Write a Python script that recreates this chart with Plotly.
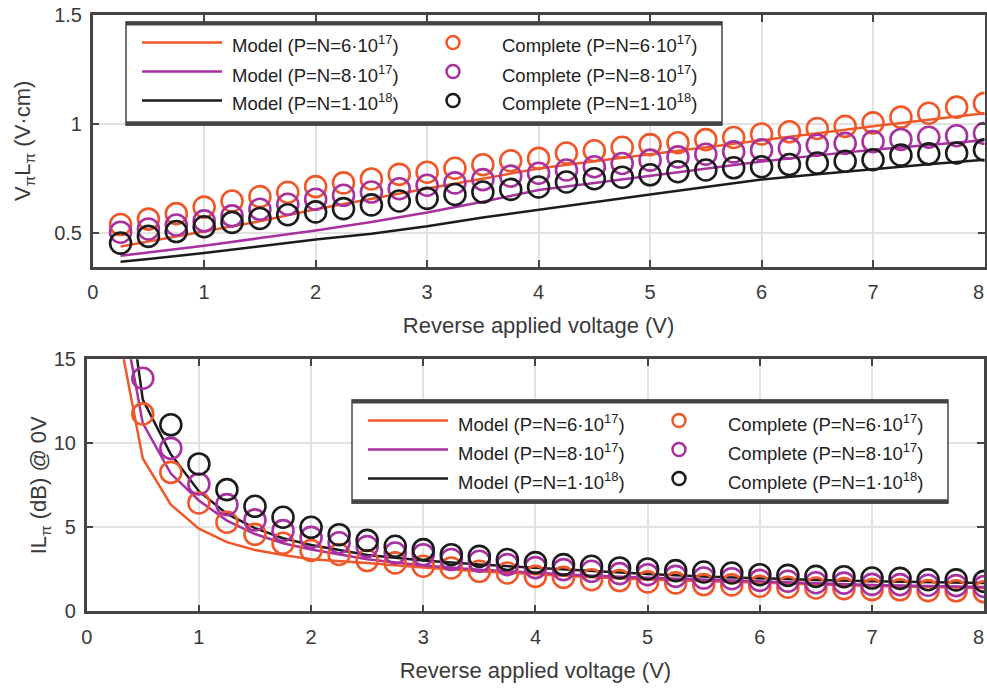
import plotly.graph_objects as go

# ---------------- data ----------------
volt_pts = [0.25, 0.5, 0.75, 1.0, 1.25, 1.5, 1.75, 2.0, 2.25, 2.5, 2.75, 3.0, 3.25, 3.5, 3.75, 4.0,
            4.25, 4.5, 4.75, 5.0, 5.25, 5.5, 5.75, 6.0, 6.25, 6.5, 6.75, 7.0, 7.25, 7.5, 7.75, 8.0]

# V_pi L_pi (V.cm) - "Complete" simulations
vpl_complete_6e17 = [0.54, 0.565, 0.59, 0.62, 0.648, 0.668, 0.688, 0.714, 0.731, 0.749, 0.77, 0.78,
                     0.798, 0.814, 0.832, 0.843, 0.868, 0.878, 0.894, 0.906, 0.915, 0.929, 0.939, 0.955,
                     0.965, 0.98, 0.99, 1.006, 1.032, 1.05, 1.078, 1.095]
vpl_complete_8e17 = [0.505, 0.52, 0.538, 0.557, 0.58, 0.61, 0.633, 0.656, 0.674, 0.689, 0.704, 0.72,
                     0.731, 0.746, 0.762, 0.775, 0.79, 0.805, 0.82, 0.835, 0.85, 0.862, 0.873, 0.882,
                     0.89, 0.904, 0.912, 0.92, 0.93, 0.94, 0.947, 0.958]
vpl_complete_1e18 = [0.455, 0.486, 0.508, 0.53, 0.55, 0.568, 0.585, 0.598, 0.613, 0.63, 0.648, 0.66,
                     0.678, 0.689, 0.701, 0.712, 0.735, 0.75, 0.757, 0.768, 0.782, 0.79, 0.8, 0.805,
                     0.815, 0.822, 0.83, 0.837, 0.858, 0.864, 0.868, 0.882]

# V_pi L_pi model curves
volt_model_top = [0.25, 0.5, 1, 1.5, 2, 2.5, 3, 3.5, 4, 4.5, 5, 5.5, 6, 6.5, 7, 7.5, 8]
vpl_model_6e17 = [0.44, 0.463, 0.508, 0.555, 0.61, 0.658, 0.705, 0.75, 0.797, 0.83, 0.862, 0.895,
                  0.928, 0.96, 0.99, 1.02, 1.05]
vpl_model_8e17 = [0.397, 0.412, 0.443, 0.478, 0.513, 0.552, 0.595, 0.645, 0.698, 0.73, 0.762, 0.796,
                  0.829, 0.857, 0.883, 0.905, 0.926]
vpl_model_1e18 = [0.37, 0.382, 0.41, 0.44, 0.472, 0.498, 0.532, 0.572, 0.608, 0.645, 0.678, 0.712,
                  0.746, 0.771, 0.795, 0.816, 0.837]

# IL_pi (dB) @ 0V - "Complete" simulations (None = off the chart)
il_complete_6e17 = [None, 11.75, 8.27, 6.45, 5.3, 4.58, 4.05, 3.62, 3.38, 3.02, 2.88, 2.68, 2.58, 2.38,
                    2.28, 2.08, 2.02, 1.88, 1.83, 1.75, 1.69, 1.59, 1.57, 1.49, 1.43, 1.39, 1.35, 1.29,
                    1.28, 1.23, 1.22, 1.16]
il_complete_8e17 = [None, 13.87, 9.7, 7.58, 6.35, 5.44, 4.8, 4.4, 4.08, 3.85, 3.47, 3.37, 3.08, 2.98,
                    2.78, 2.6, 2.48, 2.38, 2.24, 2.18, 2.08, 1.98, 1.94, 1.84, 1.79, 1.7, 1.68, 1.6,
                    1.59, 1.55, 1.53, 1.48]
il_complete_1e18 = [None, None, 11.1, 8.77, 7.24, 6.25, 5.6, 5.0, 4.56, 4.22, 3.87, 3.67, 3.37, 3.27,
                    3.08, 2.9, 2.78, 2.68, 2.58, 2.52, 2.42, 2.34, 2.28, 2.18, 2.14, 2.08, 2.06, 1.98,
                    1.96, 1.88, 1.87, 1.78]

# IL_pi model curves
volt_model_bot = [0.25, 0.5, 0.75, 1, 1.25, 1.5, 1.75, 2, 2.5, 3, 3.5, 4, 4.5, 5, 5.5, 6, 6.5, 7, 7.5, 8]
il_model_6e17 = [17.8, 9.1, 6.35, 4.92, 4.12, 3.65, 3.35, 3.1, 2.88, 2.6, 2.38, 2.2, 2.03, 1.9, 1.8,
                 1.7, 1.6, 1.5, 1.45, 1.39]
il_model_8e17 = [20.2, 11.2, 8.2, 6.6, 5.4, 4.6, 4.05, 3.68, 3.1, 2.72, 2.48, 2.3, 2.12, 1.99, 1.88,
                 1.79, 1.68, 1.57, 1.5, 1.44]
il_model_1e18 = [24.6, 12.6, 9.35, 7.15, 5.8, 4.95, 4.35, 3.95, 3.35, 3.02, 2.78, 2.58, 2.38, 2.22,
                 2.07, 1.95, 1.86, 1.79, 1.73, 1.69]

model_labels = ["Model (P=N=6·10<sup>17</sup>)", "Model (P=N=8·10<sup>17</sup>)",
                "Model (P=N=1·10<sup>18</sup>)"]
complete_labels = ["Complete (P=N=6·10<sup>17</sup>)", "Complete (P=N=8·10<sup>17</sup>)",
                   "Complete (P=N=1·10<sup>18</sup>)"]
x_ticks = [0, 1, 2, 3, 4, 5, 6, 7, 8]
# the last label ("8") is drawn as an annotation hugging the right edge, like the reference
x_ticktext = ["0", "1", "2", "3", "4", "5", "6", "7", ""]
last_x_label = "8"
y_ticks_top = [0.5, 1, 1.5]
y_ticktext_top = ["0.5", "1", "1.5"]
y_ticks_bot = [0, 5, 10, 15]

# ---------------- styling ----------------
W, H = 987, 688
FONT = "Liberation Sans, Arial, Helvetica, sans-serif"
COLORS = ["#F0582A", "#A8309F", "#1C1C1C"]
AXC = "#444444"
TXT = "#3a3a3a"


def px(x):
    return x / W


def py(y):
    return 1 - y / H


fig = go.Figure()

top_models = [vpl_model_6e17, vpl_model_8e17, vpl_model_1e18]
top_complete = [vpl_complete_6e17, vpl_complete_8e17, vpl_complete_1e18]
bot_models = [il_model_6e17, il_model_8e17, il_model_1e18]
bot_complete = [il_complete_6e17, il_complete_8e17, il_complete_1e18]

for i in range(3):
    fig.add_trace(go.Scatter(x=volt_model_top, y=top_models[i], mode="lines",
                             line=dict(color=COLORS[i], width=2.5), name=model_labels[i],
                             showlegend=False, xaxis="x", yaxis="y"))
for i in range(3):
    fig.add_trace(go.Scatter(x=volt_pts, y=top_complete[i], mode="markers",
                             marker=dict(symbol="circle-open", size=21, color=COLORS[i],
                                         line=dict(width=2.6, color=COLORS[i])),
                             name=complete_labels[i], showlegend=False, xaxis="x", yaxis="y"))
for i in range(3):
    fig.add_trace(go.Scatter(x=volt_model_bot, y=bot_models[i], mode="lines",
                             line=dict(color=COLORS[i], width=2.5), name=model_labels[i],
                             showlegend=False, xaxis="x2", yaxis="y2"))
for i in range(3):
    fig.add_trace(go.Scatter(x=volt_pts, y=bot_complete[i], mode="markers",
                             marker=dict(symbol="circle-open", size=21, color=COLORS[i],
                                         line=dict(width=2.6, color=COLORS[i])),
                             name=complete_labels[i], showlegend=False, xaxis="x2", yaxis="y2"))

tick_font = dict(family=FONT, size=20, color=TXT)
axis_common = dict(showline=True, linecolor=AXC, linewidth=2.5, mirror="ticks", ticks="inside",
                   ticklen=7, tickwidth=2, tickcolor=AXC, showgrid=True, gridcolor="#e2e2e2",
                   gridwidth=2, zeroline=False, automargin=False, ticklabeloverflow="allow",
                   tickfont=tick_font)
title_font = dict(family=FONT, size=22, color=TXT)

fig.update_layout(
    width=W, height=H, margin=dict(l=0, r=0, t=0, b=0),
    paper_bgcolor="white", plot_bgcolor="white", showlegend=False,
    xaxis=dict(axis_common, domain=[px(92.7), px(984.5)], range=[0, 8], tickvals=x_ticks,
               ticktext=x_ticktext, anchor="y", ticklabelstandoff=6,
               title=dict(text="Reverse applied voltage (V)", font=title_font, standoff=16)),
    yaxis=dict(axis_common, domain=[py(266.7), py(15)], range=[0.347, 1.5], tickvals=y_ticks_top,
               ticktext=y_ticktext_top, anchor="x", ticklabelstandoff=4,
               title=dict(text="V<sub>π</sub>L<sub>π</sub> (V·cm)", font=title_font, standoff=18)),
    xaxis2=dict(axis_common, domain=[px(86.7), px(984.2)], range=[0, 8], tickvals=x_ticks,
                ticktext=x_ticktext, anchor="y2", ticklabelstandoff=6,
                title=dict(text="Reverse applied voltage (V)", font=title_font, standoff=16)),
    yaxis2=dict(axis_common, domain=[py(611.3), py(359.3)], range=[0, 15], tickvals=y_ticks_bot,
                anchor="x2", ticklabelstandoff=4,
                title=dict(text="IL<sub>π</sub> (dB) @ 0V", font=title_font, standoff=0)),
)

# ---------------- legends (drawn as layout decoration) ----------------
shapes = []
annotations = []
LEG_W, LEG_H = 596, 103
ROWS = [20.5, 49.5, 78.5]
for (lx, ly) in [(126, 22), (352, 400)]:
    shapes.append(dict(type="rect", xref="paper", yref="paper", x0=px(lx), x1=px(lx + LEG_W),
                       y0=py(ly + LEG_H), y1=py(ly), fillcolor="white",
                       line=dict(color=AXC, width=1.5), layer="above"))
    shapes.append(dict(type="line", xref="paper", yref="paper", x0=px(lx), x1=px(lx + LEG_W),
                       y0=py(ly + 1.5), y1=py(ly + 1.5), line=dict(color=AXC, width=4), layer="above"))
    shapes.append(dict(type="line", xref="paper", yref="paper", x0=px(lx), x1=px(lx + LEG_W),
                       y0=py(ly + LEG_H - 1.5), y1=py(ly + LEG_H - 1.5),
                       line=dict(color=AXC, width=4.5), layer="above"))
    for i, r in enumerate(ROWS):
        yy = ly + r
        shapes.append(dict(type="line", xref="paper", yref="paper", x0=px(lx + 16), x1=px(lx + 96),
                           y0=py(yy), y1=py(yy), line=dict(color=COLORS[i], width=2.5), layer="above"))
        rad = 6.5
        shapes.append(dict(type="circle", xref="paper", yref="paper", x0=px(lx + 327 - rad),
                           x1=px(lx + 327 + rad), y0=py(yy + rad), y1=py(yy - rad),
                           line=dict(color=COLORS[i], width=2.5), layer="above"))
        annotations.append(dict(xref="paper", yref="paper", x=px(lx + 104), y=py(yy + 2),
                                xanchor="left", yanchor="middle", showarrow=False,
                                text=model_labels[i], font=dict(family=FONT, size=18.5, color="#222222")))
        annotations.append(dict(xref="paper", yref="paper", x=px(lx + 374), y=py(yy + 2),
                                xanchor="left", yanchor="middle", showarrow=False,
                                text=complete_labels[i], font=dict(family=FONT, size=18.5, color="#222222")))

# last x tick label of each panel, kept inside the page
for label_y in (292, 637):
    annotations.append(dict(xref="paper", yref="paper", x=px(985), y=py(label_y),
                            xanchor="right", yanchor="middle", showarrow=False,
                            text=last_x_label, font=tick_font, borderpad=0))

fig.update_layout(shapes=shapes, annotations=annotations)
fig.write_html("out.html", config={"displayModeBar": False},
               post_script="document.body.style.margin='0px';")
